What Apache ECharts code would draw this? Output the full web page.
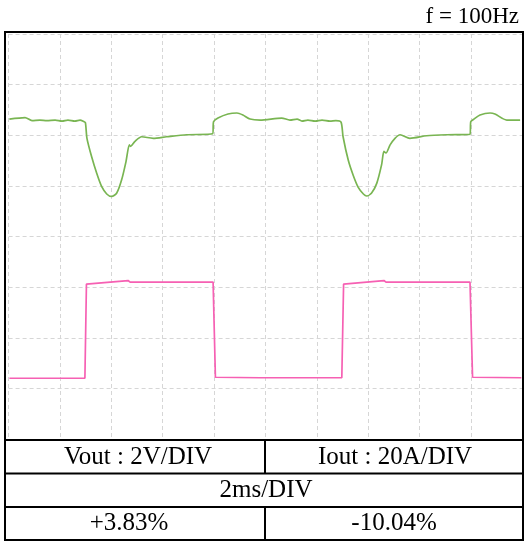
<!DOCTYPE html>
<html><head><meta charset="utf-8">
<script src="https://cdn.jsdelivr.net/npm/echarts@6/dist/echarts.min.js"></script>
<style>html,body{margin:0;padding:0;background:#fff}#c{width:525px;height:542px}</style>
</head><body><div id="c"></div>
<script>
// time in ms (2 ms/DIV, 10 divisions), amplitude in divisions (8 divisions)
const voutTime = [0.03,0.64,0.91,1.22,1.49,1.81,2.08,2.31,2.58,2.78,2.93,2.99,3.05,3.23,3.43,3.62,3.82,4.01,4.21,4.40,4.57,4.70,4.75,4.92,5.18,5.63,6.15,6.93,7.94,7.98,8.15,8.54,8.89,9.12,9.40,9.79,
  10.63,10.95,11.23,11.42,11.65,11.93,12.20,12.51,12.74,12.94,13.02,13.22,13.42,13.61,13.81,13.94,14.13,14.33,14.52,14.61,14.69,14.85,15.04,15.24,15.62,16.27,17.05,17.96,17.99,18.09,18.35,18.74,18.93,19.39,19.91];
const voutDiv = [6.32,6.35,6.29,6.30,6.29,6.30,6.28,6.30,6.28,6.30,6.27,6.25,5.94,5.58,5.25,4.99,4.84,4.79,4.86,5.12,5.48,5.81,5.78,5.88,5.97,5.94,5.97,6.01,6.03,6.27,6.34,6.42,6.44,6.40,6.32,6.30,
  6.34,6.30,6.32,6.28,6.30,6.28,6.30,6.28,6.29,6.26,5.97,5.51,5.20,4.97,4.84,4.80,4.86,5.05,5.42,5.68,5.65,5.81,5.94,6.01,5.94,5.99,6.01,6.02,6.27,6.31,6.40,6.44,6.42,6.30,6.30];
const ioutTime = [0.03,2.97,3.03,4.65,4.73,7.96,8.05,9.79,12.97,13.04,14.61,14.69,17.96,18.06,19.96];
const ioutDiv = [1.20,1.20,3.06,3.13,3.10,3.10,1.22,1.21,1.21,3.06,3.13,3.10,3.10,1.22,1.21];
const freqLabel = 'f = 100Hz';
const tableRow1 = ['Vout : 2V/DIV', 'Iout : 20A/DIV'];
const tableRow2 = ['2ms/DIV'];
const tableRow3 = ['+3.83%', '-10.04%'];

const pairs = (xs, ys) => xs.map((x, i) => [x, ys[i]]);
const serif = "'Liberation Serif','DejaVu Serif',serif";
const chart = echarts.init(document.getElementById('c'), null, {renderer: 'canvas'});
const L = 5, R = 523, T = 32, B = 540, MID = 265;
const rows = [440, 473.5, 507];
const lineEl = (x1, y1, x2, y2) => ({type: 'line', shape: {x1, y1, x2, y2}, style: {stroke: '#000', lineWidth: 2}, z: 100});
const textEl = (x, y, t, size) => ({type: 'text', x, y, style: {text: t, fill: '#000', font: size + 'px ' + serif, textAlign: 'center', textVerticalAlign: 'middle'}, z: 101});
chart.setOption({
  animation: false,
  backgroundColor: '#fff',
  grid: {left: 8.6, top: 34, width: 513.8, height: 405, containLabel: false},
  xAxis: {type: 'value', min: 0, max: 20, interval: 2, axisLine: {show: false}, axisTick: {show: false}, axisLabel: {show: false},
    splitLine: {show: true, lineStyle: {color: '#d6d6d6', type: [4, 3], width: 1}}},
  yAxis: {type: 'value', min: 0, max: 8, interval: 1, axisLine: {show: false}, axisTick: {show: false}, axisLabel: {show: false},
    splitLine: {show: true, lineStyle: {color: '#d6d6d6', type: [4, 3], width: 1}}},
  series: [
    {type: 'line', data: pairs(voutTime, voutDiv), showSymbol: false, smooth: 0.25, lineStyle: {color: '#79b552', width: 1.7}},
    {type: 'line', data: pairs(ioutTime, ioutDiv), showSymbol: false, lineStyle: {color: '#f660b3', width: 1.7}}
  ],
  graphic: [
    {type: 'rect', shape: {x: 0, y: rows[0], width: 525, height: 102}, style: {fill: '#fff'}, z: 99},
    {type: 'rect', shape: {x: L, y: T, width: R - L, height: B - T}, style: {fill: null, stroke: '#000', lineWidth: 2}, z: 100},
    lineEl(L, rows[0], R, rows[0]),
    lineEl(L, rows[1], R, rows[1]),
    lineEl(L, rows[2], R, rows[2]),
    lineEl(MID, rows[0], MID, rows[1]),
    lineEl(MID, rows[2], MID, B),
    {type: 'text', x: 519, y: 17, style: {text: freqLabel, fill: '#000', font: '23px ' + serif, textAlign: 'right', textVerticalAlign: 'middle'}, z: 101},
    textEl(138, 457, tableRow1[0], 25),
    textEl(395, 457, tableRow1[1], 25),
    textEl(266, 490, tableRow2[0], 25),
    textEl(129, 523, tableRow3[0], 25),
    textEl(394, 523, tableRow3[1], 25)
  ]
});
</script></body></html>
